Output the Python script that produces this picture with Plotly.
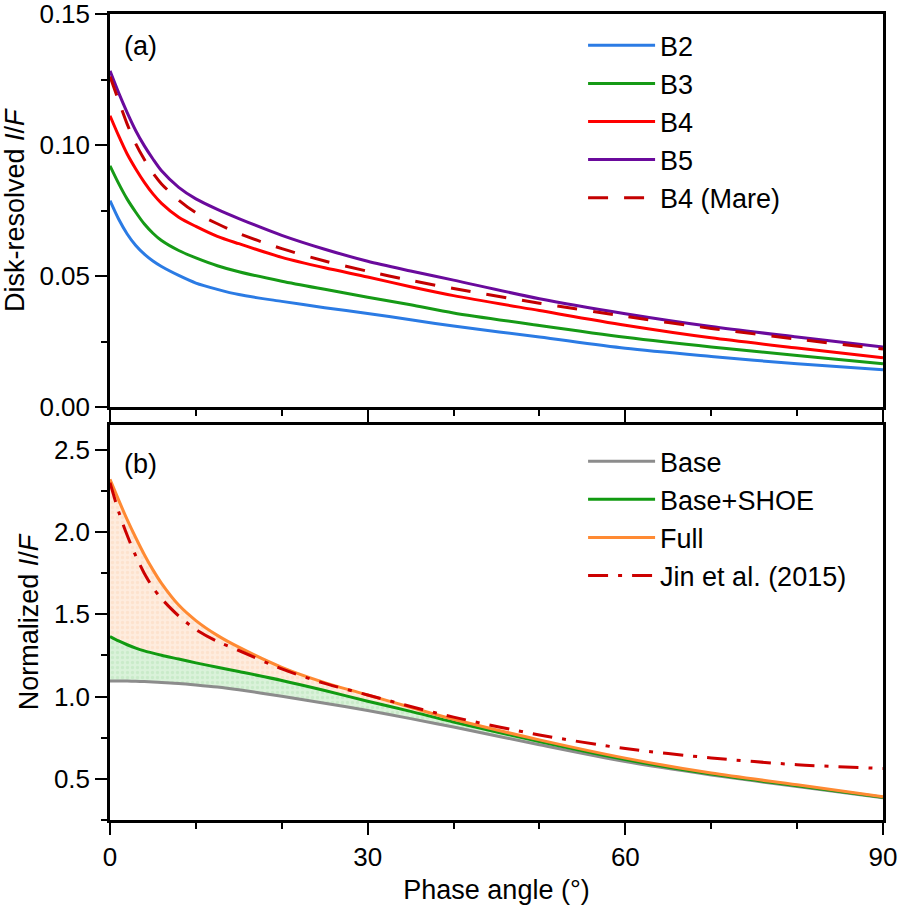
import plotly.graph_objects as go
from plotly.subplots import make_subplots

# phase angle (deg)
phase = [0, 1, 2, 3, 4, 5, 6, 8, 10, 12.5, 15, 20, 25, 30, 35, 40, 50, 60, 70, 80, 90]

# (a) disk-resolved I/F
b2 = [0.0788, 0.0718, 0.0661, 0.0617, 0.0584, 0.0558, 0.0537, 0.0503, 0.0474, 0.0450, 0.0430, 0.0404,
      0.0380, 0.0358, 0.0334, 0.0310, 0.0268, 0.0225, 0.0194, 0.0166, 0.0143]
b3 = [0.0921, 0.0854, 0.0794, 0.0744, 0.0699, 0.0664, 0.0636, 0.0598, 0.0570, 0.0540, 0.0517, 0.0481,
      0.0450, 0.0420, 0.0391, 0.0360, 0.0312, 0.0267, 0.0230, 0.0198, 0.0166]
b4 = [0.1112, 0.1036, 0.0966, 0.0909, 0.0858, 0.0814, 0.0778, 0.0725, 0.0690, 0.0652, 0.0624, 0.0572,
      0.0532, 0.0497, 0.0460, 0.0426, 0.0369, 0.0313, 0.0265, 0.0226, 0.0189]
b5 = [0.1283, 0.1200, 0.1124, 0.1055, 0.0997, 0.0947, 0.0902, 0.0839, 0.0795, 0.0755, 0.0720, 0.0656,
      0.0603, 0.0557, 0.0520, 0.0485, 0.0414, 0.0357, 0.0308, 0.0268, 0.0230]
b4_mare = [0.1262, 0.1170, 0.1080, 0.1005, 0.0945, 0.0893, 0.0852, 0.0790, 0.0742, 0.0700, 0.0663, 0.0605,
           0.0558, 0.0519, 0.0484, 0.0453, 0.0397, 0.0347, 0.0301, 0.0260, 0.0222]

# (b) normalized I/F
base = [1.095, 1.095, 1.094, 1.093, 1.091, 1.089, 1.086, 1.080, 1.071, 1.058, 1.041, 1.002,
        0.960, 0.915, 0.866, 0.815, 0.707, 0.605, 0.524, 0.453, 0.385]
base_shoe = [1.365, 1.338, 1.315, 1.295, 1.278, 1.264, 1.251, 1.228, 1.205, 1.178, 1.152, 1.098,
             1.037, 0.972, 0.910, 0.845, 0.727, 0.617, 0.529, 0.458, 0.388]
full = [2.320, 2.195, 2.075, 1.965, 1.862, 1.770, 1.688, 1.556, 1.462, 1.372, 1.300, 1.178,
        1.085, 1.010, 0.935, 0.862, 0.737, 0.626, 0.535, 0.464, 0.391]
jin2015 = [2.300, 2.125, 1.980, 1.855, 1.748, 1.662, 1.595, 1.490, 1.408, 1.335, 1.280, 1.168,
           1.080, 1.010, 0.940, 0.875, 0.767, 0.684, 0.627, 0.586, 0.563]

FONT = "Liberation Sans, Arial, sans-serif"
SPL = dict(shape="spline", smoothing=0.8)

fig = make_subplots(rows=2, cols=1, shared_xaxes=True)

# panel a
top = [("B2", b2, "#2b7be4", "solid"),
       ("B3", b3, "#169a16", "solid"),
       ("B4", b4, "#ff0000", "solid"),
       ("B5", b5, "#6a0a9c", "solid"),
       ("B4 (Mare)", b4_mare, "#c40000", "20px,16px")]
for name, ys, col, dash in top:
    fig.add_trace(go.Scatter(x=phase, y=ys, name=name, mode="lines",
                             line=dict(color=col, width=3, dash=dash, **SPL),
                             legend="legend"), row=1, col=1)

# panel b - shaded areas first
fig.add_trace(go.Scatter(x=phase, y=base, mode="lines", line=dict(width=0, **SPL),
                         showlegend=False, hoverinfo="skip"), row=2, col=1)
fig.add_trace(go.Scatter(x=phase, y=base_shoe, mode="lines", line=dict(width=0, **SPL),
                         fill="tonexty", fillcolor="#d6f0d6",
                         fillpattern=dict(shape=".", bgcolor="#daf2da", fgcolor="#b8e4b8", size=5, solidity=0.35),
                         showlegend=False, hoverinfo="skip"), row=2, col=1)
fig.add_trace(go.Scatter(x=phase, y=full, mode="lines", line=dict(width=0, **SPL),
                         fill="tonexty", fillcolor="#fde8d6",
                         fillpattern=dict(shape=".", bgcolor="#feecde", fgcolor="#fbd8bc", size=5, solidity=0.35),
                         showlegend=False, hoverinfo="skip"), row=2, col=1)

bottom = [("Base", base, "#8c8c8c", "solid"),
          ("Base+SHOE", base_shoe, "#119a11", "solid"),
          ("Full", full, "#ff8a33", "solid"),
          ("Jin et al. (2015)", jin2015, "#cc0000", "20px,10px,4px,10px")]
for name, ys, col, dash in bottom:
    fig.add_trace(go.Scatter(x=phase, y=ys, name=name, mode="lines",
                             line=dict(color=col, width=3, dash=dash, **SPL),
                             legend="legend2"), row=2, col=1)

axis_common = dict(showline=True, linecolor="black", linewidth=2.5, mirror=True,
                   ticks="outside", ticklen=12, tickwidth=2, tickcolor="black",
                   showgrid=False, zeroline=False, automargin=False, ticklabeloverflow="allow",
                   tickfont=dict(family=FONT, size=26, color="black"))

fig.update_xaxes(range=[0, 90], tickvals=[0, 30, 60, 90],
                 minor=dict(dtick=10, ticklen=6, tickwidth=2, tickcolor="black", ticks="outside"),
                 **axis_common)
fig.update_xaxes(showticklabels=False, row=1, col=1)
fig.update_xaxes(title=dict(text="Phase angle (°)", font=dict(family=FONT, size=27, color="black"), standoff=10),
                 row=2, col=1)

fig.update_yaxes(range=[0, 0.15], dtick=0.05, tickformat=".2f",
                 minor=dict(dtick=0.025, ticklen=6, tickwidth=2, tickcolor="black", ticks="outside"),
                 title=dict(text="Disk-resolved <i>I</i>/<i>F</i>", font=dict(family=FONT, size=27, color="black"), standoff=8),
                 row=1, col=1, **axis_common)
fig.update_yaxes(range=[0.25, 2.65], tickvals=[0.5, 1.0, 1.5, 2.0, 2.5], tickformat=".1f",
                 minor=dict(dtick=0.25, tick0=0, ticklen=6, tickwidth=2, tickcolor="black", ticks="outside"),
                 title=dict(text="Normalized <i>I</i>/<i>F</i>", font=dict(family=FONT, size=27, color="black"), standoff=8),
                 row=2, col=1, **axis_common)

fig.update_layout(
    width=900, height=909,
    margin=dict(l=110, r=17, t=14, b=89),
    plot_bgcolor="white", paper_bgcolor="white",
    font=dict(family=FONT, size=26, color="black"),
    xaxis=dict(domain=[0, 1]),
    yaxis=dict(domain=[0.512, 1.0]),
    yaxis2=dict(domain=[0.0, 0.49]),
    legend=dict(x=0.612, y=0.991, xanchor="left", yanchor="top", bgcolor="rgba(0,0,0,0)",
                traceorder="normal", font=dict(family=FONT, size=27), tracegroupgap=0, itemwidth=67),
    legend2=dict(x=0.612, y=0.475, xanchor="left", yanchor="top", bgcolor="rgba(0,0,0,0)",
                 traceorder="normal", font=dict(family=FONT, size=27), tracegroupgap=0, itemwidth=67),
    annotations=[
        dict(text="(a)", x=0.016, y=0.960, xref="paper", yref="paper", xanchor="left", yanchor="middle",
             showarrow=False, font=dict(family=FONT, size=27, color="black")),
        dict(text="(b)", x=0.016, y=0.442, xref="paper", yref="paper", xanchor="left", yanchor="middle",
             showarrow=False, font=dict(family=FONT, size=27, color="black")),
    ],
)

# the page's default body margin would shift the figure by 8px
fig.write_html("out.html", config={"displayModeBar": False},
               post_script="document.body.style.margin='0px';")
